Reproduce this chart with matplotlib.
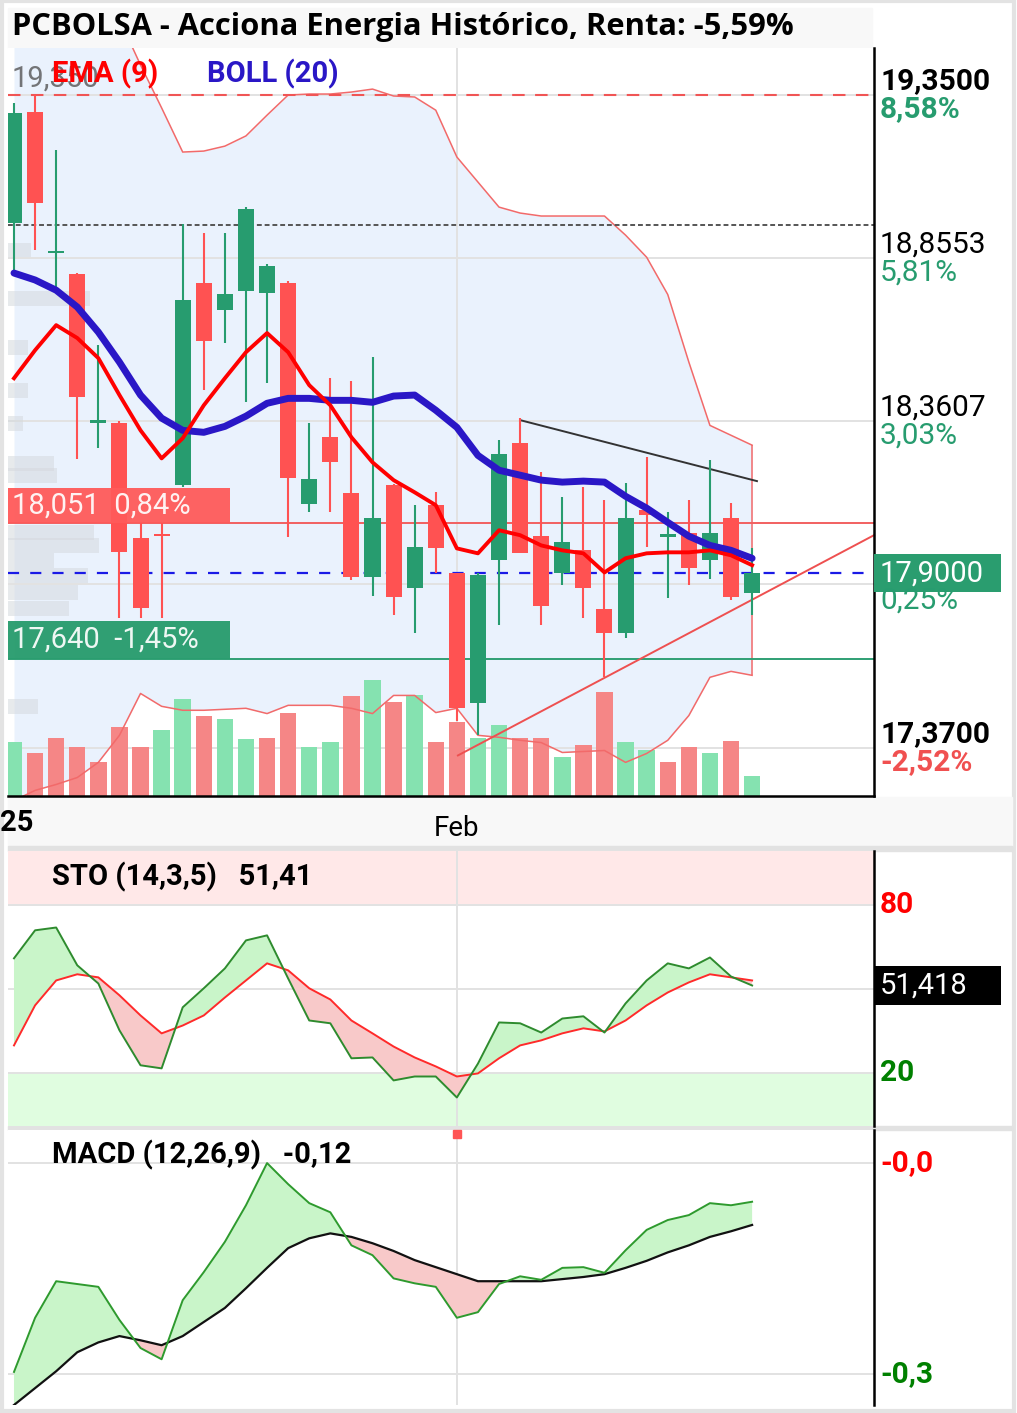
import matplotlib
matplotlib.use('Agg')
import matplotlib.pyplot as plt
import matplotlib.transforms as mtransforms
from matplotlib.patches import Rectangle
import numpy as np

plt.rcParams['font.family'] = ['Roboto', 'DejaVu Sans']

# ---------------- datos ----------------
apertura = [18.962, 19.300, 18.870, 18.807, 18.355, 18.355, 18.006, 18.018, 18.166, 18.779,
            18.697, 18.755, 18.749, 18.779, 18.109, 18.312, 18.142, 17.887, 18.166, 17.854,
            18.106, 17.899, 17.505, 17.939, 18.294, 18.012, 17.899, 17.969, 17.790, 17.717,
            18.091, 18.009, 18.021, 17.939, 18.066, 17.839]
maximo = [19.326, 19.350, 19.183, 18.810, 18.591, 18.360, 18.051, 18.051, 18.958, 18.931,
          18.931, 19.010, 18.837, 18.785, 18.355, 18.491, 18.482, 18.555, 18.170, 18.106,
          18.145, 17.900, 17.900, 18.303, 18.370, 18.206, 18.130, 18.160, 18.121, 18.172,
          18.251, 18.084, 18.121, 18.242, 18.112, 17.975]
minimo = [18.810, 18.880, 18.758, 18.245, 18.280, 17.763, 17.763, 17.763, 18.160, 18.455,
          18.597, 18.418, 18.476, 18.009, 18.084, 18.084, 17.878, 17.830, 17.772, 17.717,
          17.899, 17.450, 17.408, 17.742, 17.960, 17.742, 17.863, 17.763, 17.584, 17.702,
          17.978, 17.823, 17.863, 17.881, 17.817, 17.772]
cierre = [19.295, 19.022, 18.875, 18.434, 18.361, 17.963, 17.793, 18.012, 18.728, 18.603,
          18.746, 19.004, 18.831, 18.188, 18.185, 18.236, 17.887, 18.066, 17.827, 17.978,
          17.975, 17.490, 17.893, 18.260, 17.960, 17.799, 17.993, 17.854, 17.717, 18.066,
          18.075, 18.018, 17.915, 18.021, 17.827, 17.900]
volumen = [54, 43, 58, 49, 34, 69, 49, 66, 97, 80, 77, 57, 58, 83, 49, 54, 100, 116, 94, 101,
           54, 74, 58, 71, 58, 58, 39, 51, 104, 54, 46, 34, 49, 43, 55, 20]
vol_color = 'grrrrrrggrggrrggrgrgrrggrrgrrggrrgrg'

ema9 = [18.491, 18.576, 18.652, 18.613, 18.552, 18.440, 18.333, 18.248, 18.309, 18.409,
        18.491, 18.570, 18.628, 18.570, 18.470, 18.409, 18.312, 18.236, 18.182, 18.145,
        18.106, 17.975, 17.960, 18.030, 18.015, 17.984, 17.969, 17.960, 17.902, 17.945,
        17.960, 17.963, 17.963, 17.969, 17.954, 17.924]
boll_media = [18.810, 18.789, 18.758, 18.707, 18.631, 18.540, 18.440, 18.370, 18.333, 18.327,
              18.345, 18.376, 18.415, 18.430, 18.430, 18.424, 18.424, 18.418, 18.437, 18.440,
              18.394, 18.342, 18.257, 18.212, 18.197, 18.182, 18.176, 18.179, 18.176, 18.133,
              18.097, 18.054, 18.012, 17.984, 17.969, 17.945]
boll_sup = [19.95, 19.88, 19.81, 19.74, 19.67, 19.58, 19.441, 19.311, 19.177, 19.180,
            19.195, 19.226, 19.289, 19.350, 19.353, 19.353, 19.359, 19.368, 19.347, 19.344,
            19.304, 19.162, 19.086, 19.010, 18.992, 18.983, 18.983, 18.983, 18.983, 18.925,
            18.858, 18.745, 18.540, 18.348, 18.318, 18.288]
boll_inf = [17.210, 17.241, 17.259, 17.280, 17.326, 17.408, 17.535, 17.496, 17.484, 17.484,
            17.487, 17.490, 17.474, 17.499, 17.499, 17.499, 17.490, 17.474, 17.529, 17.529,
            17.477, 17.490, 17.408, 17.402, 17.393, 17.386, 17.356, 17.359, 17.362, 17.326,
            17.353, 17.393, 17.468, 17.584, 17.602, 17.590]

sto_k = [61.1, 71.1, 72.1, 58.6, 52.1, 35.4, 22.9, 21.8, 43.6, 50.4, 57.5, 67.5, 69.3, 53.9,
         38.9, 37.9, 25.4, 25.7, 17.5, 18.9, 18.9, 11.4, 23.5, 38.2, 37.9, 34.6, 39.6, 40.4,
         34.6, 45.0, 53.2, 59.3, 57.5, 61.4, 54.6, 51.4]
sto_d = [30.0, 44.3, 53.2, 55.4, 54.3, 47.9, 40.7, 34.3, 37.1, 40.7, 47.1, 53.2, 59.3, 56.8,
         50.4, 46.4, 38.9, 34.3, 29.6, 25.7, 22.5, 18.9, 20.0, 25.4, 30.0, 31.8, 34.3, 36.1,
         35.0, 38.9, 44.3, 48.9, 52.5, 55.4, 54.3, 53.2]

macd = [-0.297, -0.220, -0.168, -0.172, -0.176, -0.223, -0.263, -0.279, -0.195, -0.155,
        -0.112, -0.060, 0.000, -0.030, -0.057, -0.070, -0.117, -0.131, -0.164, -0.171,
        -0.176, -0.220, -0.212, -0.172, -0.161, -0.166, -0.149, -0.148, -0.156, -0.124,
        -0.095, -0.081, -0.074, -0.057, -0.060, -0.055]
macd_senal = [-0.344, -0.320, -0.296, -0.269, -0.255, -0.246, -0.252, -0.259, -0.246, -0.226,
              -0.206, -0.178, -0.149, -0.121, -0.107, -0.100, -0.105, -0.114, -0.125, -0.138,
              -0.148, -0.158, -0.168, -0.168, -0.168, -0.168, -0.165, -0.162, -0.158, -0.149,
              -0.139, -0.127, -0.117, -0.105, -0.097, -0.088]

# niveles del eje de precios
niveles = [19.35, 18.8553, 18.3607, 17.37]
niveles_txt = ['19,3500', '18,8553', '18,3607', '17,3700']
niveles_pct = ['8,58%', '5,81%', '3,03%', '-2,52%']
rejilla_precio = [19.35, 18.8553, 18.3607, 17.866, 17.37]
precio_actual = 17.90
linea_resist = 18.051
linea_soporte = 17.640
linea_max = 19.35
linea_punteada = 18.955

tend_baja_x, tend_baja_y = [24.0, 35.23], [18.364, 18.179]
tend_alza_x, tend_alza_y = [21.05, 40.78], [17.347, 18.015]

# perfil de volumen (gris a la izquierda)
vp_precio = [18.880, 18.734, 18.585, 18.455, 18.355, 18.233, 18.197, 18.024, 17.984,
             17.939, 17.893, 17.842, 17.793, 17.496]
vp_ancho = [1.1, 3.9, 0.95, 0.95, 0.7, 2.2, 2.3, 4.1, 4.3, 2.2, 3.8, 3.3, 2.9, 1.4]

idx_feb = 21

VERDE = '#279c6f'
ROJO = '#ff5252'

# ---------------- figura ----------------
W, H = 1017, 1413
fig = plt.figure(figsize=(W / 100, H / 100), dpi=100)

def caja(x0, y0, x1, y1):
    return [x0 / W, 1 - y1 / H, (x1 - x0) / W, (y1 - y0) / H]

def fondo(x0, y0, x1, y1, **kw):
    fig.patches.append(Rectangle((x0 / W, 1 - y1 / H), (x1 - x0) / W, (y1 - y0) / H,
                                 transform=fig.transFigure, zorder=-1, **kw))

# fondos y marcos
fondo(2, 1, 1014, 1411, fill=False, edgecolor='#e3e3e3', lw=3)
fondo(8, 8, 872, 48, color='#f8f8f8')
fondo(8, 797, 1012, 846, color='#f8f8f8')
fondo(8, 846, 1012, 850.5, color='#e2e2e2')
fondo(8, 1125.5, 1012, 1130, color='#e2e2e2')

x = np.arange(len(cierre))
XL = (-0.284, 40.78)

# ---------------- panel de precios ----------------
ax = fig.add_axes(caja(8, 48, 874, 796))
ax.set_xlim(*XL)
ax.set_ylim(17.224, 19.4926)
bl = mtransforms.blended_transform_factory(ax.transData, ax.transAxes)
bl_ax = mtransforms.blended_transform_factory(ax.transAxes, ax.transData)

ax.fill_between(x, boll_inf, boll_sup, color='#eaf2fd', zorder=0.5, lw=0)
for g in rejilla_precio:
    ax.axhline(g, color='#e2e2e2', lw=1.4, zorder=0.6)
ax.axvline(idx_feb, color='#e2e2e2', lw=1.4, zorder=0.6)

ax.barh(vp_precio, vp_ancho, height=0.045, left=XL[0], color='#d5d9de', alpha=0.55,
        zorder=0.8, lw=0)

colv = {'g': '#85e2b0', 'r': '#f58686'}
ax.bar(x, np.array(volumen) / 748.0, width=0.78, bottom=0, transform=bl,
       color=[colv[c] for c in vol_color], zorder=1, lw=0)

ax.plot(x, boll_sup, color='#f26a6a', lw=1.1, zorder=2)
ax.plot(x, boll_inf, color='#f26a6a', lw=1.1, zorder=2)
ax.vlines(x[-1], boll_inf[-1], boll_sup[-1], color='#f26a6a', lw=1.1, zorder=2)

ax.axhline(linea_max, color='#f05555', lw=1.5, ls=(0, (6, 5)), zorder=2)
ax.axhline(linea_punteada, color='#555555', lw=1.4, ls=(0, (2.5, 1.5)), zorder=2)
ax.axhline(linea_resist, color='#f26060', lw=1.4, zorder=2)
ax.axhline(linea_soporte, color='#2f9f74', lw=1.4, zorder=2)
ax.axhline(precio_actual, color='#1a1ae6', lw=1.6, ls=(0, (5, 5)), zorder=2)

ax.plot(tend_baja_x, tend_baja_y, color='#333333', lw=1.4, zorder=2.2)
ax.plot(tend_alza_x, tend_alza_y, color='#ee5050', lw=1.4, zorder=2.2, clip_on=False)

o = np.array(apertura); c = np.array(cierre)
col = [VERDE if cc >= oo else ROJO for oo, cc in zip(o, c)]
ax.vlines(x, minimo, maximo, color=col, lw=1.5, zorder=3)
alto = np.maximum(np.abs(c - o), 0.008)
ax.bar(x, alto, bottom=np.minimum(o, c), width=0.76, color=col, zorder=3, lw=0)

ax.plot(x, boll_media, color='#2a17c6', lw=5, zorder=4, solid_capstyle='round')
ax.plot(x, ema9, color='#ff0000', lw=2.8, zorder=4.5)

# cajas de niveles a la izquierda
ax.add_patch(Rectangle((0, linea_resist), 222 / 866, 0.108, transform=bl_ax,
                       color='#ff5a5a', alpha=0.95, zorder=6, lw=0))
ax.text(4 / 866, linea_resist + 0.054, '18,051  0,84%', transform=bl_ax, color='white',
        alpha=0.92, fontsize=21, va='center', ha='left', zorder=7)
ax.add_patch(Rectangle((0, linea_soporte), 222 / 866, 0.116, transform=bl_ax,
                       color='#2a9d6f', alpha=0.97, zorder=6, lw=0))
ax.text(4 / 866, linea_soporte + 0.058, '17,640  -1,45%', transform=bl_ax, color='white',
        alpha=0.92, fontsize=21, va='center', ha='left', zorder=7)

# leyenda superior
ax.text(4 / 866, 19.400, '19,350', transform=bl_ax, color='#555555', alpha=0.8,
        fontsize=21, va='center', ha='left', zorder=7)
ax.text(44 / 866, 19.413, 'EMA (9)', transform=bl_ax, color='#ff0000',
        fontsize=21, fontweight='bold', va='center', ha='left', zorder=8)
ax.text(199 / 866, 19.413, 'BOLL (20)', transform=bl_ax, color='#2a17c6',
        fontsize=21, fontweight='bold', va='center', ha='left', zorder=8)

# etiquetas del eje derecho
def etiqueta(a, y, txt, color, dy, peso='normal', size=21.5):
    a.annotate(txt, xy=(1, y), xycoords=('axes fraction', 'data'), xytext=(6, dy),
               textcoords='offset pixels', ha='left', va='center', fontsize=size,
               color=color, fontweight=peso, annotation_clip=False, zorder=10)

pesos = ['bold', 'normal', 'normal', 'bold']
col_pct = [VERDE, VERDE, VERDE, '#f05050']
for nv, t, p, w, cp in zip(niveles, niveles_txt, niveles_pct, pesos, col_pct):
    etiqueta(ax, nv, t, 'black', 14, w)
    etiqueta(ax, nv, p, cp, -14, w)
etiqueta(ax, precio_actual, '0,25%', VERDE, -27)
ax.add_patch(Rectangle((1, precio_actual - 0.058), 127 / 866, 0.116, transform=bl_ax,
                       color='#2a9d6f', clip_on=False, zorder=9, lw=0))
etiqueta(ax, precio_actual, '17,9000', 'white', 0, size=21)

ax.set_xticks([idx_feb])
ax.set_xticklabels(['Feb'])
ax.tick_params(axis='x', length=0, pad=14, labelsize=20)
ax.set_yticks([])
for s in ('left', 'top'):
    ax.spines[s].set_visible(False)
for s in ('right', 'bottom'):
    ax.spines[s].set_linewidth(1.8)
    ax.spines[s].set_color('black')

fig.text(12 / W, 1 - 27 / H, 'PCBOLSA - Acciona Energia Histórico, Renta: -5,59%',
         fontsize=22.2, fontweight='bold', family=['Open Sans', 'DejaVu Sans'],
         va='center', ha='left')
fig.text(0, 1 - 823 / H, '25', fontsize=21, fontweight='bold', va='center', ha='left')

# ---------------- panel estocástico ----------------
ax2 = fig.add_axes(caja(8, 850.5, 874, 1125.5))
ax2.set_xlim(*XL)
ax2.set_ylim(1.4, 99.6)
ax2.axhspan(80, 100, color='#ffe8e8', zorder=0, lw=0)
ax2.axhspan(0, 20, color='#e0fde0', zorder=0, lw=0)
for g in (80, 50, 20):
    ax2.axhline(g, color='#e2e2e2', lw=1.4, zorder=0.6)
ax2.axvline(idx_feb, color='#e2e2e2', lw=1.4, zorder=0.6)
k = np.array(sto_k); d = np.array(sto_d)
ax2.fill_between(x, k, d, where=k >= d, interpolate=True, color='#c9f5c9', lw=0, zorder=1)
ax2.fill_between(x, k, d, where=k < d, interpolate=True, color='#f8c9c9', lw=0, zorder=1)
ax2.plot(x, d, color='#ff2a2a', lw=1.4, zorder=2)
ax2.plot(x, k, color='#2e8b2e', lw=1.4, zorder=3)
ax2.text(44 / 866, 0.905, 'STO (14,3,5)   51,41', transform=ax2.transAxes, fontsize=21,
         fontweight='bold', va='center', ha='left')
etiqueta(ax2, 80, '80', '#ff0000', 0, 'bold')
etiqueta(ax2, 20, '20', '#008000', 0, 'bold')
bl2 = mtransforms.blended_transform_factory(ax2.transAxes, ax2.transData)
ax2.add_patch(Rectangle((1, sto_k[-1] - 6.8), 127 / 866, 13.6, transform=bl2,
                        color='black', clip_on=False, zorder=9, lw=0))
etiqueta(ax2, sto_k[-1], '51,418', 'white', 0, size=21)

# ---------------- panel MACD ----------------
ax3 = fig.add_axes(caja(8, 1130, 874, 1405))
ax3.set_xlim(*XL)
ax3.set_ylim(-0.344, 0.047)
for g in (0.0, -0.3):
    ax3.axhline(g, color='#e2e2e2', lw=1.4, zorder=0.6)
ax3.axvline(idx_feb, color='#e2e2e2', lw=1.4, zorder=0.6)
m = np.array(macd); s = np.array(macd_senal)
ax3.fill_between(x, m, s, where=m >= s, interpolate=True, color='#c9f5c9', lw=0, zorder=1)
ax3.fill_between(x, m, s, where=m < s, interpolate=True, color='#f8c9c9', lw=0, zorder=1)
ax3.plot(x, s, color='#111111', lw=1.6, zorder=2)
ax3.plot(x, m, color='#2e9a2e', lw=1.4, zorder=3)
ax3.plot([idx_feb], [0.041], marker='s', ms=6, color='#ff5555', clip_on=False, zorder=5)
ax3.text(44 / 866, 0.908, 'MACD (12,26,9)   -0,12', transform=ax3.transAxes, fontsize=21,
         fontweight='bold', va='center', ha='left', zorder=6)
etiqueta(ax3, 0.0, '-0,0', '#ff0000', 0, 'bold')
etiqueta(ax3, -0.3, '-0,3', '#008000', 0, 'bold')

for a in (ax2, ax3):
    a.set_xticks([]); a.set_yticks([])
    for sp in ('left', 'top', 'bottom'):
        a.spines[sp].set_visible(False)
    a.spines['right'].set_linewidth(1.8)

fig.savefig('out.png', dpi=100)
